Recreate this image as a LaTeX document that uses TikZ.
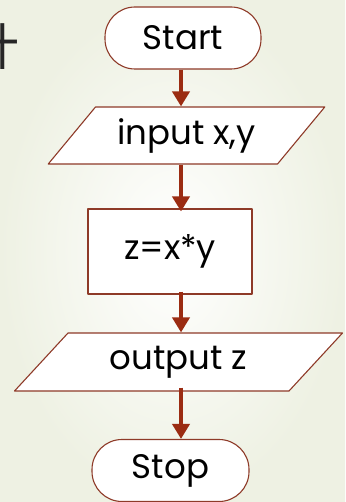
\documentclass[tikz,border=0pt]{standalone}
\usepackage{fontspec}
\setmainfont{Poppins}
\newfontfamily\cjkfont{Noto Sans CJK SC}
\usetikzlibrary{arrows.meta,shapes.geometric}
\definecolor{edge}{HTML}{8E3A28}
\definecolor{flowred}{HTML}{9B2C12}
\definecolor{paper}{HTML}{EEF1E3}
\tikzset{
  every picture/.style={line join=round, >=Stealth},
  every node/.style={font=\fontsize{34}{38}\selectfont, inner sep=0pt},
  termbox/.style={draw=edge, line width=1.1pt, fill=white, rectangle, rounded corners=30pt, minimum width=156pt, minimum height=62pt},
  iobox/.style={draw=edge, line width=1.1pt, fill=white, trapezium, trapezium left angle=44, trapezium right angle=136, trapezium stretches=true},
  procbox/.style={draw=edge, line width=1.1pt, fill=white, rectangle, minimum width=164pt, minimum height=85pt},
  flow/.style={flowred, line width=4.5pt, -{Triangle[width=17pt,length=15pt]}},
}

\begin{document}
\begin{tikzpicture}[x=1pt,y=-1pt]
\clip (0,0) rectangle (345,502);
\shade[inner color=white, outer color=paper] (0,0) rectangle (345,502);
\node[font=\cjkfont\fontsize{50}{50}\selectfont, text=black!85] (mark) at (-5,47) {计};
% flowchart
\node[termbox] (start) at (183,38) {Start};
\node[iobox, minimum width=277pt, minimum height=57pt] (input) at (186.5,135.5) {input x,y};
\node[procbox] (calc) at (170,251.5) {z=x*y};
\node[iobox, minimum width=329pt, minimum height=58pt] (output) at (178.5,362) {output z};
\node[termbox, minimum width=157pt] (stop) at (170.5,470.5) {Stop};
\coordinate (spine) at (181,0);
\draw[flow] (start.south -| spine) -- (input.north -| spine);
\draw[flow] (input.south -| spine) -- ([yshift=-3pt]calc.north -| spine);
\draw[flow] ([yshift=3pt]calc.south -| spine) -- (output.north -| spine);
\draw[flow] ([yshift=4pt]output.south -| spine) -- (stop.north -| spine);
\end{tikzpicture}
\end{document}
